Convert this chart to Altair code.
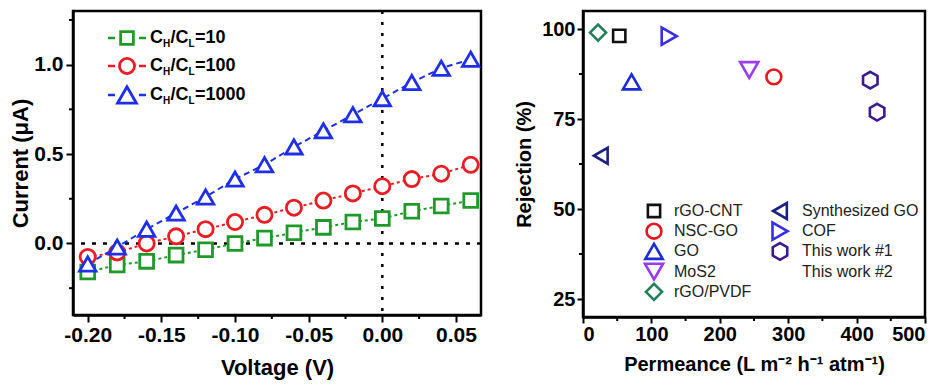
import altair as alt
import pandas as pd

# ---------------- Left panel data: I-V curves ----------------
voltage = [-0.20, -0.18, -0.16, -0.14, -0.12, -0.10, -0.08, -0.06, -0.04, -0.02, 0.00, 0.02, 0.04, 0.06]
current_10 = [-0.16, -0.12, -0.10, -0.065, -0.035, 0.00, 0.03, 0.06, 0.09, 0.12, 0.14, 0.18, 0.21, 0.24]
current_100 = [-0.075, -0.05, 0.00, 0.04, 0.08, 0.12, 0.16, 0.20, 0.24, 0.28, 0.32, 0.36, 0.39, 0.44]
current_1000 = [-0.115, -0.02, 0.08, 0.17, 0.26, 0.36, 0.44, 0.54, 0.63, 0.72, 0.81, 0.90, 0.98, 1.03]
series_keys = ["10", "100", "1000"]
series_colors = ["#1f9a2a", "#ec1c24", "#1f2fe8"]
series_shapes = ["square", "circle", "triangle-up"]
series_sizes = [190, 270, 420]
series_dash = [[3, 3], [3, 3], [6, 4]]

# ---------------- Right panel data ----------------
materials = ["rGO-CNT", "NSC-GO", "GO", "MoS2", "rGO/PVDF",
             "Synthesized GO", "COF", "This work #1", "This work #2"]
permeance = [53, 279, 71, 243, 22, 26, 126, 420, 430]
rejection = [98.1, 86.7, 85.3, 88.6, 99.0, 64.8, 98.0, 85.8, 76.9]
HEX = "M0,-1L0.866,-0.5L0.866,0.5L0,1L-0.866,0.5L-0.866,-0.5Z"
mat_colors = ["#111111", "#e3171d", "#1b2bd6", "#9a3cf0", "#23805c",
              "#1c2080", "#3a2ee2", "#3a1a8e", "#3a1a8e"]
mat_shapes = ["square", "circle", "triangle-up", "triangle-down", "diamond",
              "triangle-left", "triangle-right", HEX, HEX]
mat_sizes = [150, 220, 300, 330, 260, 250, 300, 280, 280]
legend_symbol = [True, True, True, True, True, True, True, True, False]

FONT = "Liberation Sans"

# ---------------- Left panel ----------------
LW, LH = 408, 304
rows = []
for key, vals in zip(series_keys, [current_10, current_100, current_1000]):
    for v, c in zip(voltage, vals):
        rows.append({"V": v, "I": c, "series": key})
iv = pd.DataFrame(rows)

xs_l = alt.Scale(domain=[-0.21, 0.067], nice=False, zero=False)
ys_l = alt.Scale(domain=[-0.4, 1.3], nice=False, zero=False)

x_axis_l = alt.Axis(
    values=[-0.2, -0.15, -0.1, -0.05, 0.0, 0.05],
    labelExpr="(datum.value < 0 ? '-' : '') + format(abs(datum.value), '.2f')",
    title="Voltage (V)", grid=False, domainColor="black", domainWidth=2.5,
    tickColor="black", tickWidth=2, tickSize=7, labelPadding=2,
    labelFont=FONT, labelFontSize=21, labelFontWeight="bold", labelColor="black",
    titleFont=FONT, titleFontSize=22, titleFontWeight="bold", titleColor="black",
    titlePadding=12)
y_axis_l = alt.Axis(
    values=[0.0, 0.5, 1.0], format=".1f",
    title="Current (μA)", grid=False, domainColor="black", domainWidth=2.5,
    tickColor="black", tickWidth=2, tickSize=7, labelPadding=3,
    labelFont=FONT, labelFontSize=21, labelFontWeight="bold", labelColor="black",
    titleFont=FONT, titleFontSize=22, titleFontWeight="bold", titleColor="black",
    titlePadding=1)

X_L = alt.X("V:Q", scale=xs_l, axis=x_axis_l)
Y_L = alt.Y("I:Q", scale=ys_l, axis=y_axis_l)

zero_v = alt.Chart(pd.DataFrame({"V": [0.0]})).mark_rule(
    color="black", strokeWidth=2.5, strokeDash=[3, 8]).encode(x=X_L)
zero_h = alt.Chart(pd.DataFrame({"I": [0.0]})).mark_rule(
    color="black", strokeWidth=2.5, strokeDash=[4, 7]).encode(y=Y_L)

lines = alt.Chart(iv).mark_line(strokeWidth=2).encode(
    x=X_L, y=Y_L,
    color=alt.Color("series:N", scale=alt.Scale(domain=series_keys, range=series_colors), legend=None),
    strokeDash=alt.StrokeDash("series:N", scale=alt.Scale(domain=series_keys, range=series_dash), legend=None),
    detail="series:N")

points = alt.Chart(iv).mark_point(strokeWidth=2.8, opacity=1).encode(
    x=X_L, y=Y_L,
    stroke=alt.Stroke("series:N", scale=alt.Scale(domain=series_keys, range=series_colors), legend=None),
    fill=alt.value("white"),
    shape=alt.Shape("series:N", scale=alt.Scale(domain=series_keys, range=series_shapes), legend=None),
    size=alt.Size("series:O", scale=alt.Scale(domain=series_keys, range=series_sizes), legend=None))

minor_x_l = alt.Chart(pd.DataFrame({"V": [-0.175, -0.125, -0.075, -0.025, 0.025]})).mark_rule(
    color="black", strokeWidth=2).encode(x=X_L, y=alt.value(LH), y2=alt.value(LH + 4))
minor_y_l = alt.Chart(pd.DataFrame({"I": [-0.25, 0.25, 0.75, 1.25]})).mark_rule(
    color="black", strokeWidth=2).encode(y=Y_L, x=alt.value(-4), x2=alt.value(0))

# manual legend (subscripts)
one = pd.DataFrame({"a": [0]})
leg_layers = []
LEG_Y = [27, 55, 84]
for i, key in enumerate(series_keys):
    y = LEG_Y[i]
    leg_layers.append(alt.Chart(one).mark_rule(
        color=series_colors[i], strokeWidth=2.5, strokeDash=[7, 24]).encode(
        x=alt.value(35), x2=alt.value(73), y=alt.value(y)))
    leg_layers.append(alt.Chart(one).mark_point(
        shape=series_shapes[i], size=series_sizes[i] * 0.85, stroke=series_colors[i],
        fill="white", strokeWidth=2.8, opacity=1).encode(
        x=alt.value(54), y=alt.value(y)))
    pieces = [("C", 0, 0, 18), ("H", 13, 6, 10), ("/C", 20.5, 0, 18),
              ("L", 38.5, 6, 10), ("=" + key, 45, 0, 18)]
    for txt, dx, dy, fs in pieces:
        leg_layers.append(alt.Chart(one).mark_text(
            text=txt, font=FONT, fontSize=fs, fontWeight="bold", color="black",
            align="left", baseline="middle").encode(
            x=alt.value(77 + dx), y=alt.value(y + dy)))

left = alt.layer(zero_v, zero_h, lines, points, minor_x_l, minor_y_l, *leg_layers).properties(
    width=LW, height=LH)

# ---------------- Right panel ----------------
RW, RH = 342, 306
perf = pd.DataFrame({"name": materials, "P": permeance, "R": rejection})
xs_r = alt.Scale(domain=[0, 500], nice=False, zero=False)
ys_r = alt.Scale(domain=[20, 105], nice=False, zero=False)

x_axis_r = alt.Axis(
    values=[0, 100, 200, 300, 400, 500], format="d",
    title="Permeance (L m⁻² h⁻¹ atm⁻¹)", grid=False, domainColor="black", domainWidth=2.5,
    tickColor="black", tickWidth=2, tickSize=6, labelPadding=1,
    labelFont=FONT, labelFontSize=20, labelFontWeight="bold", labelColor="black",
    titleFont=FONT, titleFontSize=20, titleFontWeight="bold", titleColor="black",
    titlePadding=10)
y_axis_r = alt.Axis(
    values=[25, 50, 75, 100], format="d",
    title="Rejection (%)", grid=False, domainColor="black", domainWidth=2.5,
    tickColor="black", tickWidth=2, tickSize=6, labelPadding=2,
    labelFont=FONT, labelFontSize=20, labelFontWeight="bold", labelColor="black",
    titleFont=FONT, titleFontSize=20, titleFontWeight="bold", titleColor="black",
    titlePadding=7)

X_R = alt.X("P:Q", scale=xs_r, axis=x_axis_r)
Y_R = alt.Y("R:Q", scale=ys_r, axis=y_axis_r)

pt_layers = []
for i, m in enumerate(materials):
    pt_layers.append(alt.Chart(perf).transform_filter(alt.datum.name == m).mark_point(
        shape=mat_shapes[i], size=mat_sizes[i], stroke=mat_colors[i], fill="white",
        strokeWidth=2.6, opacity=1).encode(x=X_R, y=Y_R))

minor_x_r = alt.Chart(pd.DataFrame({"P": [50, 150, 250, 350, 450]})).mark_rule(
    color="black", strokeWidth=2).encode(x=X_R, y=alt.value(RH), y2=alt.value(RH + 4))
minor_y_r = alt.Chart(pd.DataFrame({"R": [37.5, 62.5, 87.5]})).mark_rule(
    color="black", strokeWidth=2).encode(y=Y_R, x=alt.value(-4), x2=alt.value(0))

RLEG_SYM_X = [71, 197]
RLEG_TXT_X = [91, 219]
RLEG_Y0, RLEG_DY = 200, 20.2
rleg = []
for i, m in enumerate(materials):
    col = 0 if i < 5 else 1
    row = i if i < 5 else i - 5
    y = RLEG_Y0 + row * RLEG_DY
    if legend_symbol[i]:
        rleg.append(alt.Chart(one).mark_point(
            shape=mat_shapes[i], size=mat_sizes[i], stroke=mat_colors[i], fill="white",
            strokeWidth=2.6, opacity=1).encode(
            x=alt.value(RLEG_SYM_X[col]), y=alt.value(y)))
    rleg.append(alt.Chart(one).mark_text(
        text=m, font=FONT, fontSize=16, color="#222222", align="left",
        baseline="middle").encode(x=alt.value(RLEG_TXT_X[col]), y=alt.value(y)))

right = alt.layer(*pt_layers, minor_x_r, minor_y_r, *rleg).properties(width=RW, height=RH)

chart = alt.hconcat(left, right, spacing=27).properties(
    padding={"left": 0, "top": 0, "right": 0, "bottom": 0}
).configure(font=FONT, background="white").configure_view(stroke="black", strokeWidth=2.5)

chart.save("out.html", embed_options={"renderer": "svg", "actions": False})
